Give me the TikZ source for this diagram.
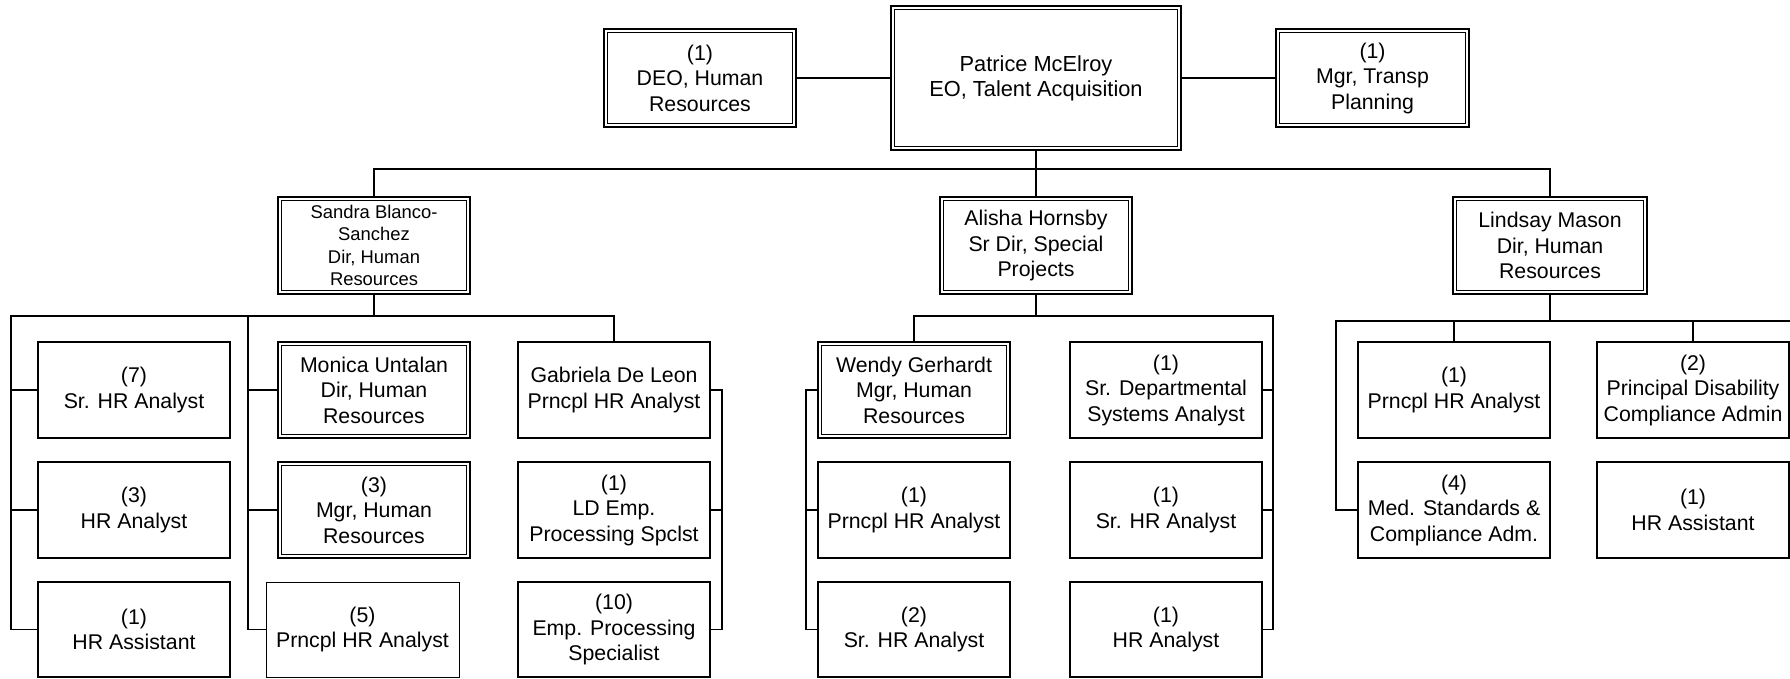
\documentclass[tikz,border=0pt]{standalone}
\usepackage{fontspec}
\setmainfont{Liberation Sans}
\newcommand\bxf{\fontsize{21.3pt}{25.5pt}\selectfont}
\newcommand\smf{\fontsize{18.4pt}{22.2pt}\selectfont}
\begin{document}
\begin{tikzpicture}[x=1pt,y=-1pt,
  ln/.style={line width=1.5pt},
  box/.style={draw, line width=1.5pt, minimum width=192pt, minimum height=96pt, inner sep=0pt, align=center, font=\bxf},
  lastrow/.style={minimum height=95pt},
  thinbox/.style={line width=1pt},
  inr/.style={line width=1.1pt}]
\useasboundingbox[fill=white] (0,0) rectangle (1790,678);

% top row
\node[box, minimum height=98pt] (deo) at (700,78) {(1)\\DEO, Human\\Resources};
\node[box, minimum width=290pt, minimum height=144pt, font=\fontsize{21.8pt}{25pt}\selectfont] (pat) at (1036,78) {Patrice McElroy\\EO, Talent Acquisition};
\node[box, minimum width=193pt, minimum height=98pt] (mgt) at (1372.5,78) {(1)\\Mgr, Transp\\Planning};

% second row
\node[box, minimum height=97pt, font=\smf] (san) at (374,245.5) {Sandra Blanco-\\Sanchez\\Dir, Human\\Resources};
\node[box, minimum height=97pt] (ali) at (1036,245.5) {Alisha Hornsby\\Sr Dir, Special\\Projects};
\node[box, minimum width=194pt, minimum height=97pt] (lin) at (1550,245.5) {Lindsay Mason\\Dir, Human\\Resources};

% Sandra's group
\node[box] (a1) at (134,390) {(7)\\Sr. HR Analyst};
\node[box] (a2) at (134,510) {(3)\\HR Analyst};
\node[box, lastrow] (a3) at (134,629.5) {(1)\\HR Assistant};
\node[box] (b1) at (374,390) {Monica Untalan\\Dir, Human\\Resources};
\node[box] (b2) at (374,510) {(3)\\Mgr, Human\\Resources};
\node[box, lastrow, thinbox, minimum width=193pt] (b3) at (362.5,629.5) {(5)\\Prncpl HR Analyst};
\node[box] (c1) at (614,390) {Gabriela De Leon\\Prncpl HR Analyst};
\node[box] (c2) at (614,510) {(1)\\LD Emp.\\Processing Spclst};
\node[box, lastrow] (c3) at (614,629.5) {(10)\\Emp. Processing\\Specialist};

% Alisha's group
\node[box] (d1) at (914,390) {Wendy Gerhardt\\Mgr, Human\\Resources};
\node[box] (d2) at (914,510) {(1)\\Prncpl HR Analyst};
\node[box, lastrow] (d3) at (914,629.5) {(2)\\Sr. HR Analyst};
\node[box] (e1) at (1166,390) {(1)\\Sr. Departmental\\Systems Analyst};
\node[box] (e2) at (1166,510) {(1)\\Sr. HR Analyst};
\node[box, lastrow] (e3) at (1166,629.5) {(1)\\HR Analyst};

% Lindsay's group
\node[box] (f1) at (1454,390) {(1)\\Prncpl HR Analyst};
\node[box] (f2) at (1454,510) {(4)\\Med. Standards \&\\Compliance Adm.};
\node[box] (g1) at (1693,390) {(2)\\Principal Disability\\Compliance Admin};
\node[box] (g2) at (1693,510) {(1)\\HR Assistant};

% inner frames of double boxes
\foreach \n in {deo,pat,mgt,san,ali,lin,b1,b2,d1}
  \draw[inr] ([shift={(4.5pt,-4.5pt)}]\n.north west) rectangle ([shift={(-4.5pt,4.5pt)}]\n.south east);

% top connectors
\draw[ln] (deo.east) -- (pat.west);
\draw[ln] (pat.east) -- (mgt.west);
\draw[ln] (pat.south) -- (ali.north);
\draw[ln] (san.north) -- ++(0,-27.5) -| (lin.north);

% Sandra's group connectors
\coordinate (sl) at (11,316);
\coordinate (bl) at (248,316);
\coordinate (cx) at (722,390);
\draw[ln] (san.south) -- (san.south |- sl);
\draw[ln] (c1.north) |- (sl) |- (a3.west);
\draw[ln] (sl |- a1.west) -- (a1.west);
\draw[ln] (sl |- a2.west) -- (a2.west);
\draw[ln] (bl) |- (b3.west);
\draw[ln] (bl |- b1.west) -- (b1.west);
\draw[ln] (bl |- b2.west) -- (b2.west);
\draw[ln] (c1.east) -- (cx) |- (c3.east);
\draw[ln] (cx |- c2.east) -- (c2.east);

% Alisha's group connectors
\coordinate (ex) at (1273,316);
\coordinate (dx) at (806,390);
\draw[ln] (ali.south) -- (ali.south |- ex);
\draw[ln] (d1.north) |- (ex) |- (e3.east);
\draw[ln] (ex |- e1.east) -- (e1.east);
\draw[ln] (ex |- e2.east) -- (e2.east);
\draw[ln] (d1.west) -- (dx) |- (d3.west);
\draw[ln] (dx |- d2.west) -- (d2.west);

% Lindsay's group connectors
\coordinate (ll) at (1336,321);
\coordinate (lr) at (1790,321);
\draw[ln] (lin.south) -- (lin.south |- ll);
\draw[ln] (lr) -- (ll) |- (f2.west);
\draw[ln] (f1.north) -- (f1.north |- ll);
\draw[ln] (g1.north) -- (g1.north |- ll);
\end{tikzpicture}
\end{document}
